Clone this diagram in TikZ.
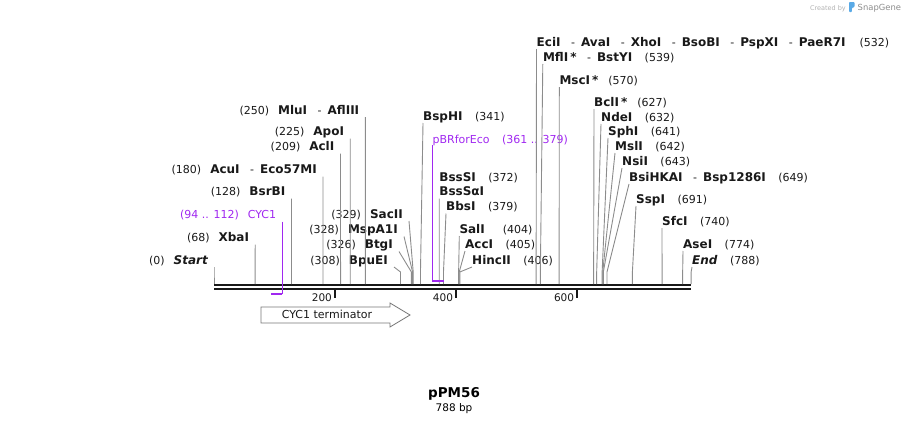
\documentclass[tikz,border=0pt]{standalone}
\usepackage{fontspec}
\setmainfont{DejaVu Sans}
\usepackage{tikz}
\usetikzlibrary{calc}
\definecolor{cutgray}{RGB}{140,140,140}
\definecolor{primercol}{RGB}{160,40,240}
\definecolor{featgray}{RGB}{120,120,120}
\definecolor{logoblue}{RGB}{90,170,230}
\newcommand{\enz}[1]{{\fontsize{12}{14}\selectfont\bfseries #1}}
\newcommand{\enzsep}{\hspace{10.5pt}-\hspace{6pt}}
\newcommand{\gapL}{\hspace{9pt}}
\newcommand{\gapR}{\hspace{12.5pt}}
\tikzstyle{lbl} = [inner sep=0pt, font=\fontsize{11}{13}\selectfont, text=black!90]
\tikzstyle{lblL} = [lbl, anchor=base east]
\tikzstyle{lblR} = [lbl, anchor=base west]
\tikzstyle{plbl} = [lbl, text=primercol]
\tikzstyle{cut} = [draw=cutgray, line width=0.9pt, to path={-- ($(\tikztotarget)+(0,-12)$) -- (\tikztotarget)}]
\tikzstyle{primer} = [draw=primercol, line width=1.4pt]
\tikzstyle{bb} = [draw=black!90, line width=2.4pt]
\tikzstyle{tick} = [draw=black!90, line width=2pt]
\tikzstyle{feat} = [draw=featgray, fill=white, line width=0.8pt]

\begin{document}
\begin{tikzpicture}[x=1pt, y=-1pt]
    \useasboundingbox (0,0) rectangle (907,423);
    % sites on the backbone
    \foreach \b in {0,68,128,180,200,209,225,250,308,326,328,329,341,372,379,400,404,405,406,532,539,570,600,627,632,641,642,643,649,691,740,774,788}
        \coordinate (s\b) at ({214+0.6055*\b},284);
    \coordinate (p94) at (270.9,294);
    \coordinate (p112) at (282.3,294);
    \coordinate (q361) at (432.4,281);
    \coordinate (q379) at (443.5,281);

    % backbone
    \draw[bb] ([yshift=-1.2pt]s0) -- ([yshift=-1.2pt]s788);
    \draw[bb] ([yshift=-5.2pt]s0) -- ([yshift=-5.2pt]s788);
    \foreach \t in {200,400,600} {
        \draw[tick] ([yshift=-6pt]s\t) -- ([yshift=-13.5pt]s\t);
        \node[lblL, font=\fontsize{10.5}{12}\selectfont] (t\t) at ($(s\t)+(-3,17.5)$) {\t};
    }

    % nodes
    \node[lblL] (start) at (208,264) {(0)\gapL\enz{\itshape Start}};
    \node[lblL] (xba) at (249.2,241.5) {(68)\gapL\enz{XbaI}};
    \node[plbl, anchor=base east] (cyc) at (276.3,218.5) {(94 .. 112)\gapL CYC1};
    \node[lblL] (bsrb) at (285.5,195.5) {(128)\gapL\enz{BsrBI}};
    \node[lblL] (acu) at (317,173.5) {(180)\gapL\enz{AcuI}\enzsep\enz{Eco57MI}};
    \node[lblL] (acl) at (334.5,150.5) {(209)\gapL\enz{AclI}};
    \node[lblL] (apo) at (344.2,135.5) {(225)\gapL\enz{ApoI}};
    \node[lblL] (mlu) at (359.4,114) {(250)\gapL\enz{MluI}\enzsep\enz{AflIII}};
    \node[lblL] (sac) at (403,218) {(329)\gapL\enz{SacII}};
    \node[lblL] (msp) at (398,233.5) {(328)\gapL\enz{MspA1I}};
    \node[lblL] (btg) at (393,248.5) {(326)\gapL\enz{BtgI}};
    \node[lblL] (bpu) at (388,264) {(308)\gapL\enz{BpuEI}};

    \node[lblR] (bsph) at (423,120) {\enz{BspHI}\gapR(341)};
    \node[plbl, anchor=base west] (pbr) at (432.4,143) {pBRforEco\gapR(361 .. 379)};
    \node[lblR] (bsss) at (439.2,181) {\enz{BssSI}\gapR(372)};
    \node[lblR] (bssa) at (439.2,195.5) {\enz{BssSαI}};
    \node[lblR] (bbs) at (446,210.5) {\enz{BbsI}\gapR(379)};
    \node[lblR] (sal) at (459.3,233) {\enz{SalI}\hspace{18pt}(404)};
    \node[lblR] (acc) at (465,248) {\enz{AccI}\gapR(405)};
    \node[lblR] (hinc) at (472,264) {\enz{HincII}\gapR(406)};

    \node[lblR] (eci) at (536.5,46) {\enz{EciI}\enzsep\enz{AvaI}\enzsep\enz{XhoI}\enzsep\enz{BsoBI}\enzsep\enz{PspXI}\enzsep\enz{PaeR7I}\hspace{14pt}(532)};
    \node[lblR] (mfl) at (542.8,61) {\enz{MflI\,*}\enzsep\enz{BstYI}\gapR(539)};
    \node[lblR] (msc) at (559.3,84) {\enz{MscI\,*}\hspace{10pt}(570)};
    \node[lblR] (bcl) at (594,106) {\enz{BclI\,*}\hspace{10pt}(627)};
    \node[lblR] (nde) at (601,121) {\enz{NdeI}\gapR(632)};
    \node[lblR] (sph) at (608,135) {\enz{SphI}\gapR(641)};
    \node[lblR] (msl) at (615,150) {\enz{MslI}\gapR(642)};
    \node[lblR] (nsi) at (622,165) {\enz{NsiI}\gapR(643)};
    \node[lblR] (bsihk) at (629,181) {\enz{BsiHKAI}\enzsep\enz{Bsp1286I}\gapR(649)};
    \node[lblR] (ssp) at (636,203) {\enz{SspI}\gapR(691)};
    \node[lblR] (sfc) at (662,225) {\enz{SfcI}\gapR(740)};
    \node[lblR] (ase) at (683,248) {\enz{AseI}\gapR(774)};
    \node[lblR] (endm) at (692,264) {\enz{\itshape End}\gapR(788)};

    % feature arrow
    \draw[feat] (261,307) -- (390,307) -- (390,303) -- (410,315) -- (390,327) -- (390,323) -- (261,323) -- cycle;
    \node[lbl, anchor=base] (term) at (327,318.5) {CYC1 terminator};

    % title
    \node[font=\fontsize{13.5}{15}\selectfont\bfseries, inner sep=0pt, anchor=base] (title) at (454,397) {pPM56};
    \node[font=\fontsize{10.5}{12}\selectfont, inner sep=0pt, anchor=base] (len) at (454,411) {788 bp};

    % credit
    \node[font=\fontsize{6.5}{8}\selectfont, text=black!30, inner sep=0pt, anchor=base east] (crby) at (846,10) {Created by};
    \node[font=\fontsize{8.4}{10}\selectfont, text=black!45, inner sep=0pt, anchor=base west] (sg) at (857.5,10.5) {SnapGene};
    \fill[logoblue, rounded corners=0.8pt] (849,2) -- (854.5,2) -- (854.5,7) -- (851.8,8) -- (851.8,12) -- (849,12) -- cycle;

    % edges
    \draw[cut] ([shift={(6pt,-3pt)}]start.base east) to (s0);
    \draw[cut] ([shift={(6pt,-3pt)}]xba.base east) to (s68);
    \draw[cut] ([shift={(6pt,-3pt)}]bsrb.base east) to (s128);
    \draw[cut] ([shift={(6pt,-3pt)}]acu.base east) to (s180);
    \draw[cut] ([shift={(6pt,-3pt)}]acl.base east) to (s209);
    \draw[cut] ([shift={(6pt,-3pt)}]apo.base east) to (s225);
    \draw[cut] ([shift={(6pt,-3pt)}]mlu.base east) to (s250);
    \draw[cut] ([shift={(6pt,-3pt)}]sac.base east) to (s329);
    \draw[cut] ([shift={(6pt,-3pt)}]msp.base east) to (s328);
    \draw[cut] ([shift={(6pt,-3pt)}]btg.base east) to (s326);
    \draw[cut] ([shift={(6pt,-3pt)}]bpu.base east) to (s308);
    \draw[cut] ([yshift=-3pt]bsph.base west) to (s341);
    \draw[cut] ([yshift=-3pt]bssa.base west) to (s372);
    \draw[cut] ([yshift=-3pt]bbs.base west) to (s379);
    \draw[cut] ([yshift=-3pt]sal.base west) to (s404);
    \draw[cut] ([yshift=-3pt]acc.base west) to (s405);
    \draw[cut] ([yshift=-3pt]hinc.base west) to (s406);
    \draw[cut] ([yshift=-3pt]eci.base west) to (s532);
    \draw[cut] ([yshift=-3pt]mfl.base west) to (s539);
    \draw[cut] ([yshift=-3pt]msc.base west) to (s570);
    \draw[cut] ([yshift=-3pt]bcl.base west) to (s627);
    \draw[cut] ([yshift=-3pt]nde.base west) to (s632);
    \draw[cut] ([yshift=-3pt]sph.base west) to (s641);
    \draw[cut] ([yshift=-3pt]msl.base west) to (s642);
    \draw[cut] ([yshift=-3pt]nsi.base west) to (s643);
    \draw[cut] ([yshift=-3pt]bsihk.base west) to (s649);
    \draw[cut] ([yshift=-3pt]ssp.base west) to (s691);
    \draw[cut] ([yshift=-3pt]sfc.base west) to (s740);
    \draw[cut] ([yshift=-3pt]ase.base west) to (s774);
    \draw[cut] ([yshift=-3pt]endm.base west) to (s788);
    \draw[primer] ([shift={(6pt,-3pt)}]cyc.base east) -- (p112);
    \draw[primer, line width=2.6pt] (p112) -- (p94);
    \draw[primer] ([yshift=-2pt]pbr.base west) -- (q361);
    \draw[primer, line width=2.4pt] (q361) -- (q379);
\end{tikzpicture}
\end{document}
